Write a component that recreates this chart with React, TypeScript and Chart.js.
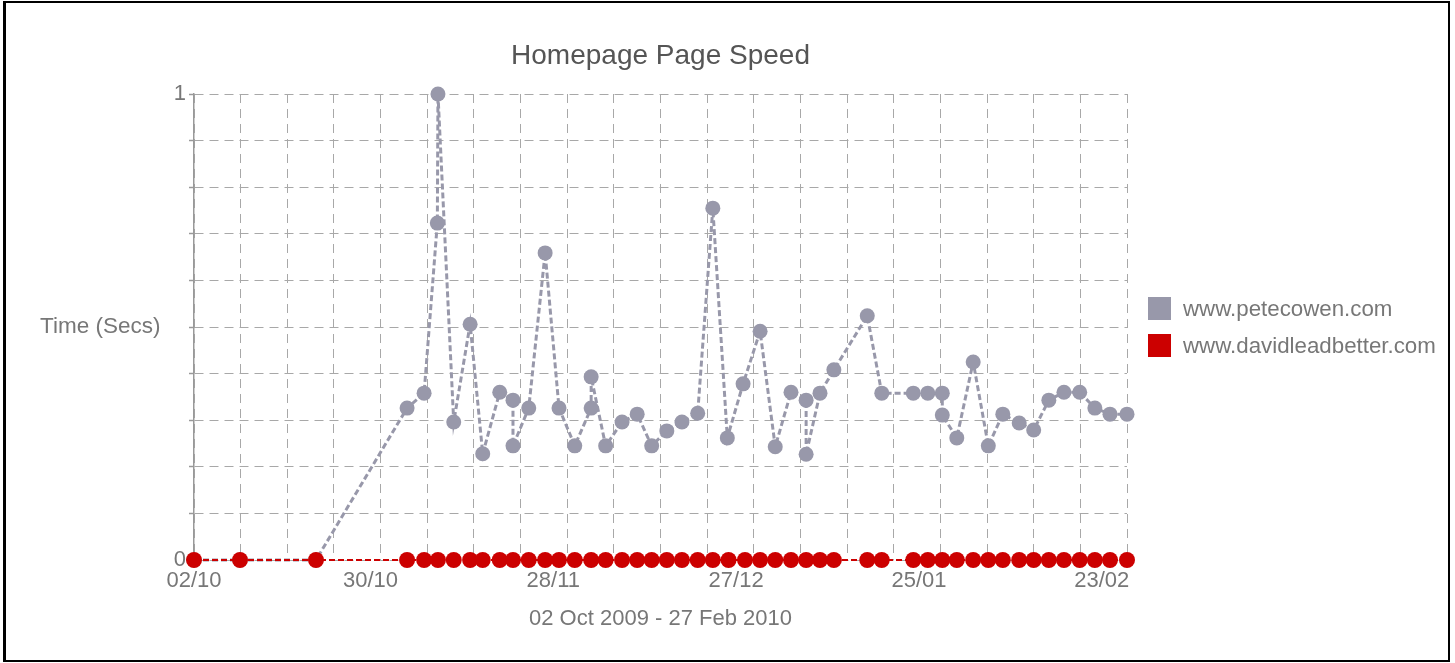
import React, { useEffect, useRef } from 'react';
import { Chart, registerables } from 'chart.js';

Chart.register(...registerables);

const chartTitle = 'Homepage Page Speed';
const yAxisLabel = 'Time (Secs)';
const xAxisLabel = '02 Oct 2009 - 27 Feb 2010';
const seriesNames = ['www.petecowen.com', 'www.davidleadbetter.com'];
const seriesColors = ['#9898aa', '#cc0000'];

// x values are days since 02 Oct 2009
const rangeDays = [0, 148];
const tickDays = [0, 28, 57, 86, 115, 144];
const tickLabels = ['02/10', '30/10', '28/11', '27/12', '25/01', '23/02'];
const yTickLabels = [0, 1];

const peteDays = [
  0, 7.3, 19.35, 33.8, 36.5, 38.6, 38.7, 41.2, 43.8, 45.8, 48.5, 50.6, 50.6, 53.1,
  55.7, 57.9, 60.4, 63.0, 63.0, 65.3, 67.9, 70.3, 72.6, 75.0, 77.4, 79.9, 82.3, 84.6,
  87.1, 89.8, 92.2, 94.7, 97.1, 97.1, 99.3, 101.5, 106.8, 109.1, 114.1, 116.4, 118.7,
  118.7, 121.0, 123.6, 126.0, 128.3, 130.9, 133.2, 135.6, 138.0, 140.5, 142.9, 145.3, 148,
];
const peteSecs = [
  0, 0, 0, 0.326, 0.358, 0.723, 1.0, 0.296, 0.506, 0.228, 0.36, 0.343, 0.245, 0.326,
  0.659, 0.326, 0.245, 0.326, 0.393, 0.245, 0.296, 0.313, 0.245, 0.277, 0.296, 0.315, 0.755, 0.262,
  0.378, 0.491, 0.243, 0.36, 0.343, 0.227, 0.358, 0.408, 0.524, 0.358, 0.358, 0.358, 0.358,
  0.311, 0.262, 0.425, 0.245, 0.313, 0.294, 0.279, 0.343, 0.36, 0.36, 0.326, 0.313, 0.313,
];

const davidDays = [
  0, 7.3, 19.35, 33.8, 36.5, 38.7, 41.2, 43.8, 45.8, 48.5, 50.6, 53.1, 55.7, 57.9, 60.4,
  63.0, 65.3, 67.9, 70.3, 72.6, 75.0, 77.4, 79.9, 82.3, 84.8, 87.4, 89.8, 92.2, 94.7, 97.1,
  99.3, 101.5, 106.8, 109.1, 114.1, 116.4, 118.7, 121.0, 123.6, 126.0, 128.3, 130.9, 133.2,
  135.6, 138.0, 140.5, 142.9, 145.3, 148,
];
const davidSecs = [
  0, 0, 0, 0, 0, 0, 0, 0, 0, 0, 0, 0, 0, 0, 0,
  0, 0, 0, 0, 0, 0, 0, 0, 0, 0, 0, 0, 0, 0, 0,
  0, 0, 0, 0, 0, 0, 0, 0, 0, 0, 0, 0, 0,
  0, 0, 0, 0, 0, 0,
];

const FONT_FAMILY = '"Liberation Sans", Arial, Helvetica, sans-serif';
const TEXT_COLOR = '#777';
const GRID_COLOR = '#a8a8a8';
const GRID_DASH = [9, 6];

const overlayPlugin = {
  id: 'overlayText',
  afterDraw(chart: any) {
    const { ctx, chartArea } = chart;
    ctx.save();
    // title
    ctx.fillStyle = '#555';
    ctx.font = `28px ${FONT_FAMILY}`;
    ctx.textAlign = 'center';
    ctx.textBaseline = 'middle';
    ctx.fillText(chartTitle, (chartArea.left + chartArea.right) / 2, chartArea.top - 38);
    // y axis label (horizontal)
    ctx.fillStyle = TEXT_COLOR;
    ctx.font = `22.5px ${FONT_FAMILY}`;
    ctx.textAlign = 'left';
    ctx.fillText(yAxisLabel, 40, (chartArea.top + chartArea.bottom) / 2);
    // legend
    const mid = (chartArea.top + chartArea.bottom) / 2;
    const rowGap = 37;
    const startY = mid - rowGap / 2;
    ctx.font = `22.3px ${FONT_FAMILY}`;
    seriesNames.forEach((name, i) => {
      const cy = startY + i * rowGap;
      ctx.fillStyle = seriesColors[i];
      ctx.fillRect(chartArea.right + 21, cy - 11.5, 23, 23);
      ctx.fillStyle = TEXT_COLOR;
      ctx.fillText(name, chartArea.right + 56, cy + 1);
    });
    ctx.restore();
  },
};

export default function App() {
  const canvasRef = useRef<HTMLCanvasElement | null>(null);

  useEffect(() => {
    if (!canvasRef.current) return;
    Chart.defaults.font.family = FONT_FAMILY;
    const gridSteps = 20;
    const chart = new Chart(canvasRef.current, {
      type: 'line',
      data: {
        datasets: [
          {
            label: seriesNames[0],
            data: peteDays.map((d, i) => ({ x: d, y: peteSecs[i] })),
            borderColor: seriesColors[0],
            backgroundColor: seriesColors[0],
            pointBackgroundColor: seriesColors[0],
            pointBorderColor: seriesColors[0],
            pointBorderWidth: 0,
            pointRadius: 7.5,
            pointHoverRadius: 7.5,
            borderWidth: 3,
            borderDash: [6, 3],
            tension: 0,
            fill: false,
            clip: false as any,
            order: 2,
            xAxisID: 'x',
            yAxisID: 'y',
          },
          {
            label: seriesNames[1],
            data: davidDays.map((d, i) => ({ x: d, y: davidSecs[i] })),
            borderColor: seriesColors[1],
            backgroundColor: seriesColors[1],
            pointBackgroundColor: seriesColors[1],
            pointBorderColor: seriesColors[1],
            pointBorderWidth: 0,
            pointRadius: 8,
            pointHoverRadius: 8,
            borderWidth: 2,
            borderDash: [6, 3],
            tension: 0,
            fill: false,
            clip: false as any,
            order: 1,
            xAxisID: 'x',
            yAxisID: 'y',
          },
        ],
      },
      options: {
        responsive: false,
        animation: false,
        events: [],
        layout: { padding: { left: 0, top: 94, right: 328, bottom: 0 } },
        plugins: {
          legend: { display: false },
          title: { display: false },
          tooltip: { enabled: false },
        },
        scales: {
          x: {
            type: 'linear',
            position: 'bottom',
            min: rangeDays[0],
            max: rangeDays[1],
            afterBuildTicks: (s: any) => {
              s.ticks = tickDays.map((v) => ({ value: v }));
            },
            afterFit: (s: any) => {
              s.height = 103;
            },
            ticks: {
              autoSkip: false,
              maxRotation: 0,
              padding: 7.5,
              color: TEXT_COLOR,
              font: { size: 22, family: FONT_FAMILY },
              callback: (v: any) => {
                const idx = tickDays.indexOf(Number(v));
                return idx >= 0 ? tickLabels[idx] : '';
              },
            },
            grid: { display: false, drawTicks: false },
            border: { display: false },
            title: {
              display: true,
              text: xAxisLabel,
              color: TEXT_COLOR,
              font: { size: 22, family: FONT_FAMILY },
              padding: { top: 0, bottom: 30.5 },
            },
          },
          xg: {
            type: 'linear',
            position: 'bottom',
            min: rangeDays[0],
            max: rangeDays[1],
            afterBuildTicks: (s: any) => {
              const span = rangeDays[1] - rangeDays[0];
              const t = [];
              for (let i = 0; i <= gridSteps; i++) t.push({ value: rangeDays[0] + (span * i) / gridSteps });
              s.ticks = t;
            },
            afterFit: (s: any) => {
              s.height = 0;
            },
            ticks: { display: false },
            grid: { color: GRID_COLOR, lineWidth: 1, drawTicks: false },
            border: { display: false, dash: GRID_DASH },
          },
          y: {
            type: 'linear',
            min: 0,
            max: 1,
            afterFit: (s: any) => {
              s.width = 194;
            },
            ticks: {
              stepSize: 0.1,
              padding: 3,
              color: TEXT_COLOR,
              font: { size: 22, family: FONT_FAMILY },
              callback: (v: any) => {
                const n = Number(v);
                const hit = yTickLabels.find((t) => Math.abs(t - n) < 1e-6);
                return hit !== undefined ? String(hit) : '';
              },
            },
            grid: {
              color: GRID_COLOR,
              lineWidth: 1,
              tickColor: '#999',
              tickLength: 5,
              tickWidth: 1.5,
              tickBorderDash: [],
            },
            border: { display: true, color: '#999', width: 1.5, dash: GRID_DASH },
          },
        },
      } as any,
      plugins: [overlayPlugin],
    });
    return () => chart.destroy();
  }, []);

  return (
    <div style={{ position: 'fixed', left: 0, top: 0, width: 1455, height: 663, background: '#fff' }}>
      <canvas
        ref={canvasRef}
        width={1455}
        height={663}
        style={{ position: 'absolute', left: 0, top: 0, width: 1455, height: 663 }}
      />
      <div
        style={{
          position: 'absolute',
          left: 3,
          top: 1,
          width: 1447,
          height: 661,
          boxSizing: 'border-box',
          borderStyle: 'solid',
          borderColor: '#000',
          borderWidth: '2px 2px 2px 3px',
          pointerEvents: 'none',
        }}
      />
    </div>
  );
}
